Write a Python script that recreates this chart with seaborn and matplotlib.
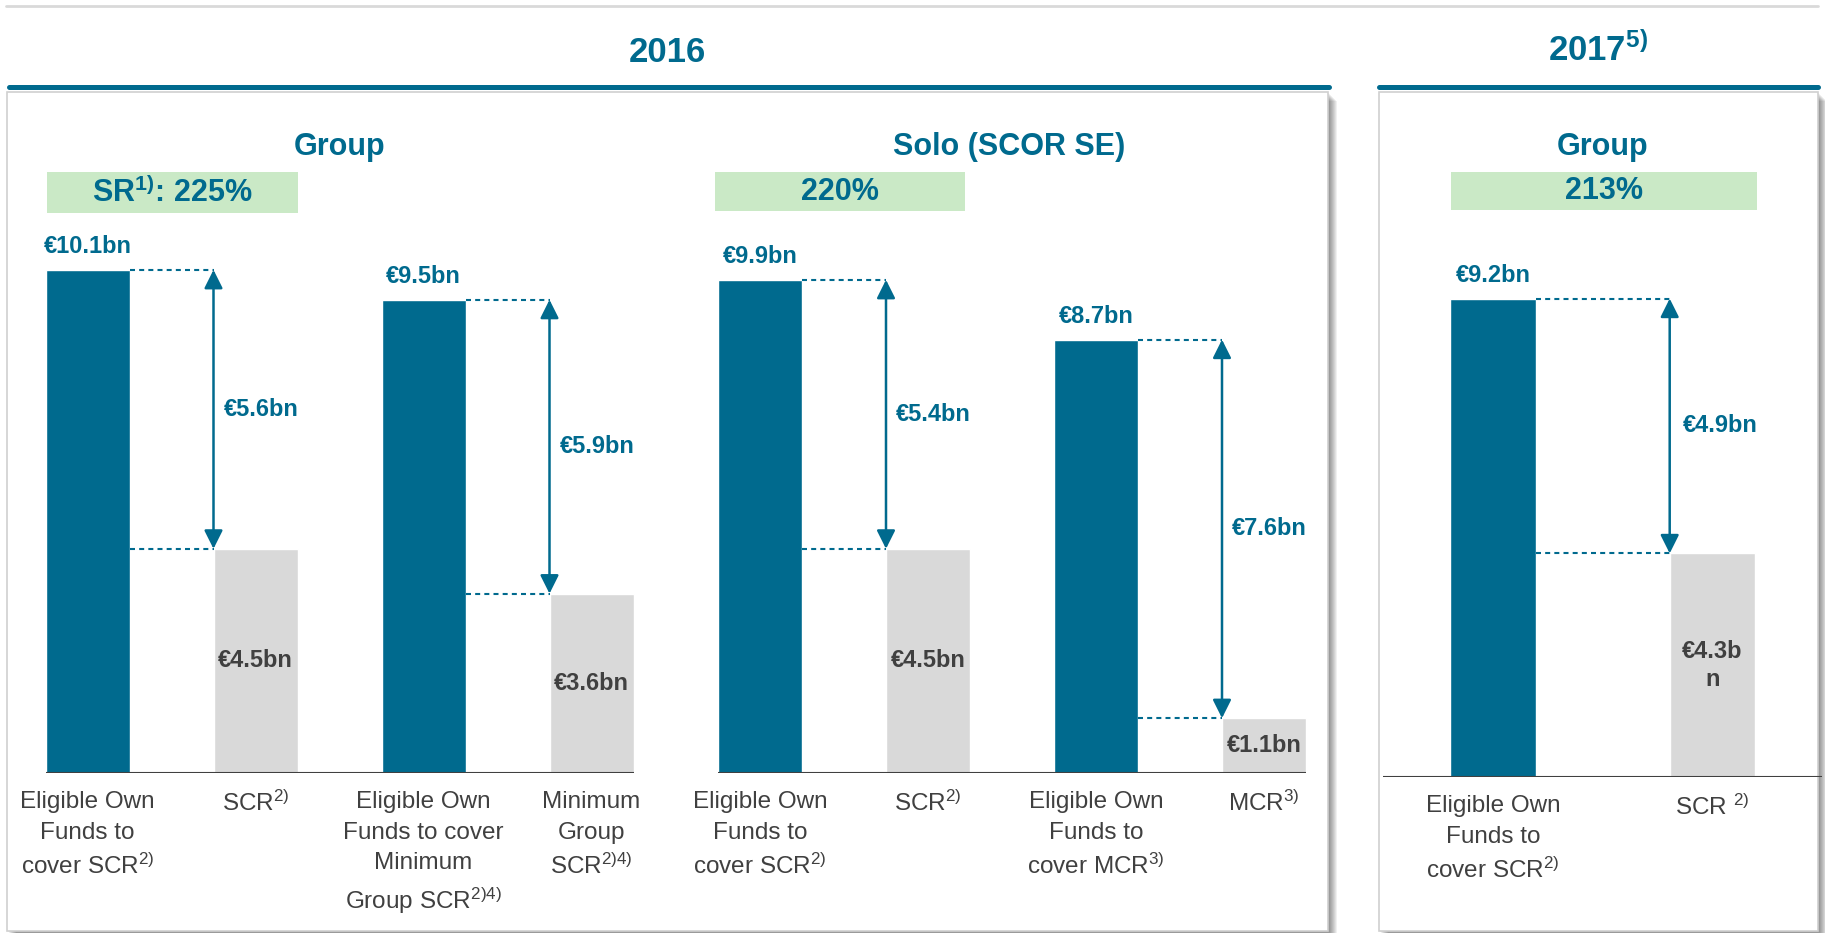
import seaborn as sns
import matplotlib.pyplot as plt
from matplotlib.patches import Rectangle
from matplotlib.lines import Line2D

W, H = 1825, 933
TEAL = '#006A8E'
GREY_BAR = '#D9D9D9'
GREEN = '#CAE9C6'
DARK = '#404040'

# Data
g16_cats = ['Eligible Own\nFunds to\ncover SCR$^{2)}$', 'SCR$^{2)}$',
            'Eligible Own\nFunds to cover\nMinimum\nGroup SCR$^{2)4)}$',
            'Minimum\nGroup\nSCR$^{2)4)}$']
g16_vals = [10.1, 4.5, 9.5, 3.6]

solo_cats = ['Eligible Own\nFunds to\ncover SCR$^{2)}$', 'SCR$^{2)}$',
             'Eligible Own\nFunds to\ncover MCR$^{3)}$', 'MCR$^{3)}$']
solo_vals = [9.9, 4.5, 8.7, 1.1]

g17_cats = ['Eligible Own\nFunds to\ncover SCR$^{2)}$', 'SCR $^{2)}$']
g17_vals = [9.2, 4.3]

panel_titles = ['Group', 'Solo (SCOR SE)', 'Group']
ratio_labels = ['SR$^{\\mathbf{1)}}$: 225%', '220%', '213%']
year_labels = ['2016', '2017$^{\\mathbf{5)}}$']

sns.set_style('white')
plt.rcParams['font.family'] = ['Liberation Sans', 'DejaVu Sans']
plt.rcParams['mathtext.fontset'] = 'custom'
plt.rcParams['mathtext.rm'] = 'Liberation Sans'
plt.rcParams['mathtext.bf'] = 'Liberation Sans:bold'
plt.rcParams['mathtext.it'] = 'Liberation Sans:italic'

fig = plt.figure(figsize=(W / 100, H / 100), dpi=100)


def fx(x):
    return x / W


def fy(y):
    return 1 - y / H


def panel_box(x0, y0, x1, y1):
    # soft shadow to the right / bottom, then the white box
    for k in range(1, 10):
        fig.patches.append(Rectangle((fx(x0 + k), fy(y1 + k)), (x1 - x0) / W, (y1 - y0) / H,
                                     transform=fig.transFigure, facecolor='black',
                                     alpha=0.06, edgecolor='none', zorder=-3))
    fig.patches.append(Rectangle((fx(x0), fy(y1)), (x1 - x0) / W, (y1 - y0) / H,
                                 transform=fig.transFigure, facecolor='white',
                                 edgecolor='#D0D0D0', lw=1.2, zorder=-2))


def green_box(x0, y0, x1, y1, text):
    fig.patches.append(Rectangle((fx(x0), fy(y1)), (x1 - x0) / W, (y1 - y0) / H,
                                 transform=fig.transFigure, facecolor=GREEN,
                                 edgecolor='none', zorder=-1))
    fig.text(fx((x0 + x1) / 2), fy((y0 + y1) / 2), text, ha='center', va='center',
             fontsize=22, fontweight='bold', color=TEAL)


def draw_panel(ax, cats, vals, width, wrap_grey=False):
    n = len(vals)
    colors = [TEAL if i % 2 == 0 else GREY_BAR for i in range(n)]
    sns.barplot(x=cats, y=vals, hue=cats, palette=colors, order=cats, hue_order=cats,
                width=width, saturation=1, legend=False, ax=ax)
    ax.set_xlim(-0.5, n - 0.5)
    ax.set_ylim(0, 11)
    ax.patch.set_visible(False)
    ax.set_yticks([])
    ax.set_xlabel('')
    ax.set_ylabel('')
    sns.despine(ax=ax, left=True, bottom=True)
    ax.tick_params(axis='x', labelsize=17.5, labelcolor=DARK, length=0, pad=13)
    for lab in ax.get_xticklabels():
        lab.set_linespacing(1.5)

    for i, v in enumerate(vals):
        txt = f'€{v}bn'
        if i % 2 == 0:
            ax.annotate(txt, (i, v), xytext=(0, 16.5), textcoords='offset points',
                        ha='center', va='center', fontsize=17, fontweight='bold', color=TEAL)
        else:
            if wrap_grey:
                txt = txt[:-1] + '\n' + txt[-1]
            ax.text(i, v / 2, txt, ha='center', va='center', fontsize=17,
                    fontweight='bold', color=DARK, linespacing=1.3)

    # gap arrows between each own-funds bar and its requirement
    for a in range(0, n, 2):
        b = a + 1
        top, low = vals[a], vals[b]
        xa, xb = a + width / 2, b - width / 2
        for lvl in (top, low):
            ax.plot([xa, xb], [lvl, lvl], color=TEAL, lw=1.5, ls=(0, (2.4, 2)))
        ax.annotate('', xy=(xb, low), xytext=(xb, top),
                    arrowprops=dict(arrowstyle='<|-|>', color=TEAL, lw=1.8,
                                    mutation_scale=28, shrinkA=0, shrinkB=0))
        ax.text(xb + 0.06, (top + low) / 2, f'€{top - low:.1f}bn', ha='left', va='center',
                fontsize=17, fontweight='bold', color=TEAL)


# frame / header decoration
fig.add_artist(Line2D([fx(6), fx(1818)], [fy(6), fy(6)], color='#D9D9D9', lw=2))
panel_box(7, 92, 1328, 931)
panel_box(1379, 92, 1818, 931)
fig.add_artist(Line2D([fx(9), fx(1329)], [fy(87), fy(87)], color=TEAL, lw=3.6))
fig.add_artist(Line2D([fx(1379), fx(1818)], [fy(87), fy(87)], color=TEAL, lw=3.6))
fig.text(fx(667), fy(53), year_labels[0], ha='center', va='center', fontsize=25,
         fontweight='bold', color=TEAL)
fig.text(fx(1598), fy(50), year_labels[1], ha='center', va='center', fontsize=25,
         fontweight='bold', color=TEAL)

for x, t in zip([340, 1009, 1603], panel_titles):
    fig.text(fx(x), fy(147), t, ha='center', va='center', fontsize=22,
             fontweight='bold', color=TEAL)
green_box(47, 172, 298, 213, ratio_labels[0])
green_box(715, 172, 965, 211, ratio_labels[1])
green_box(1451, 172, 1757, 210, ratio_labels[2])

# chart panels
ax1 = fig.add_axes([fx(3.5), fy(773), 672 / W, 548 / H])
draw_panel(ax1, g16_cats, g16_vals, 0.5)
ax1.hlines(0, -0.25, 3.25, color=DARK, lw=1.5)

ax2 = fig.add_axes([fx(676), fy(773), 672 / W, 548 / H])
draw_panel(ax2, solo_cats, solo_vals, 0.5)
ax2.hlines(0, -0.25, 3.25, color=DARK, lw=1.5)

ax3 = fig.add_axes([fx(1383.25), fy(777), 439 / W, 572 / H])
draw_panel(ax3, g17_cats, g17_vals, 0.39, wrap_grey=True)
ax3.axhline(0, color=DARK, lw=1.5)

fig.savefig('out.png', dpi=100)
